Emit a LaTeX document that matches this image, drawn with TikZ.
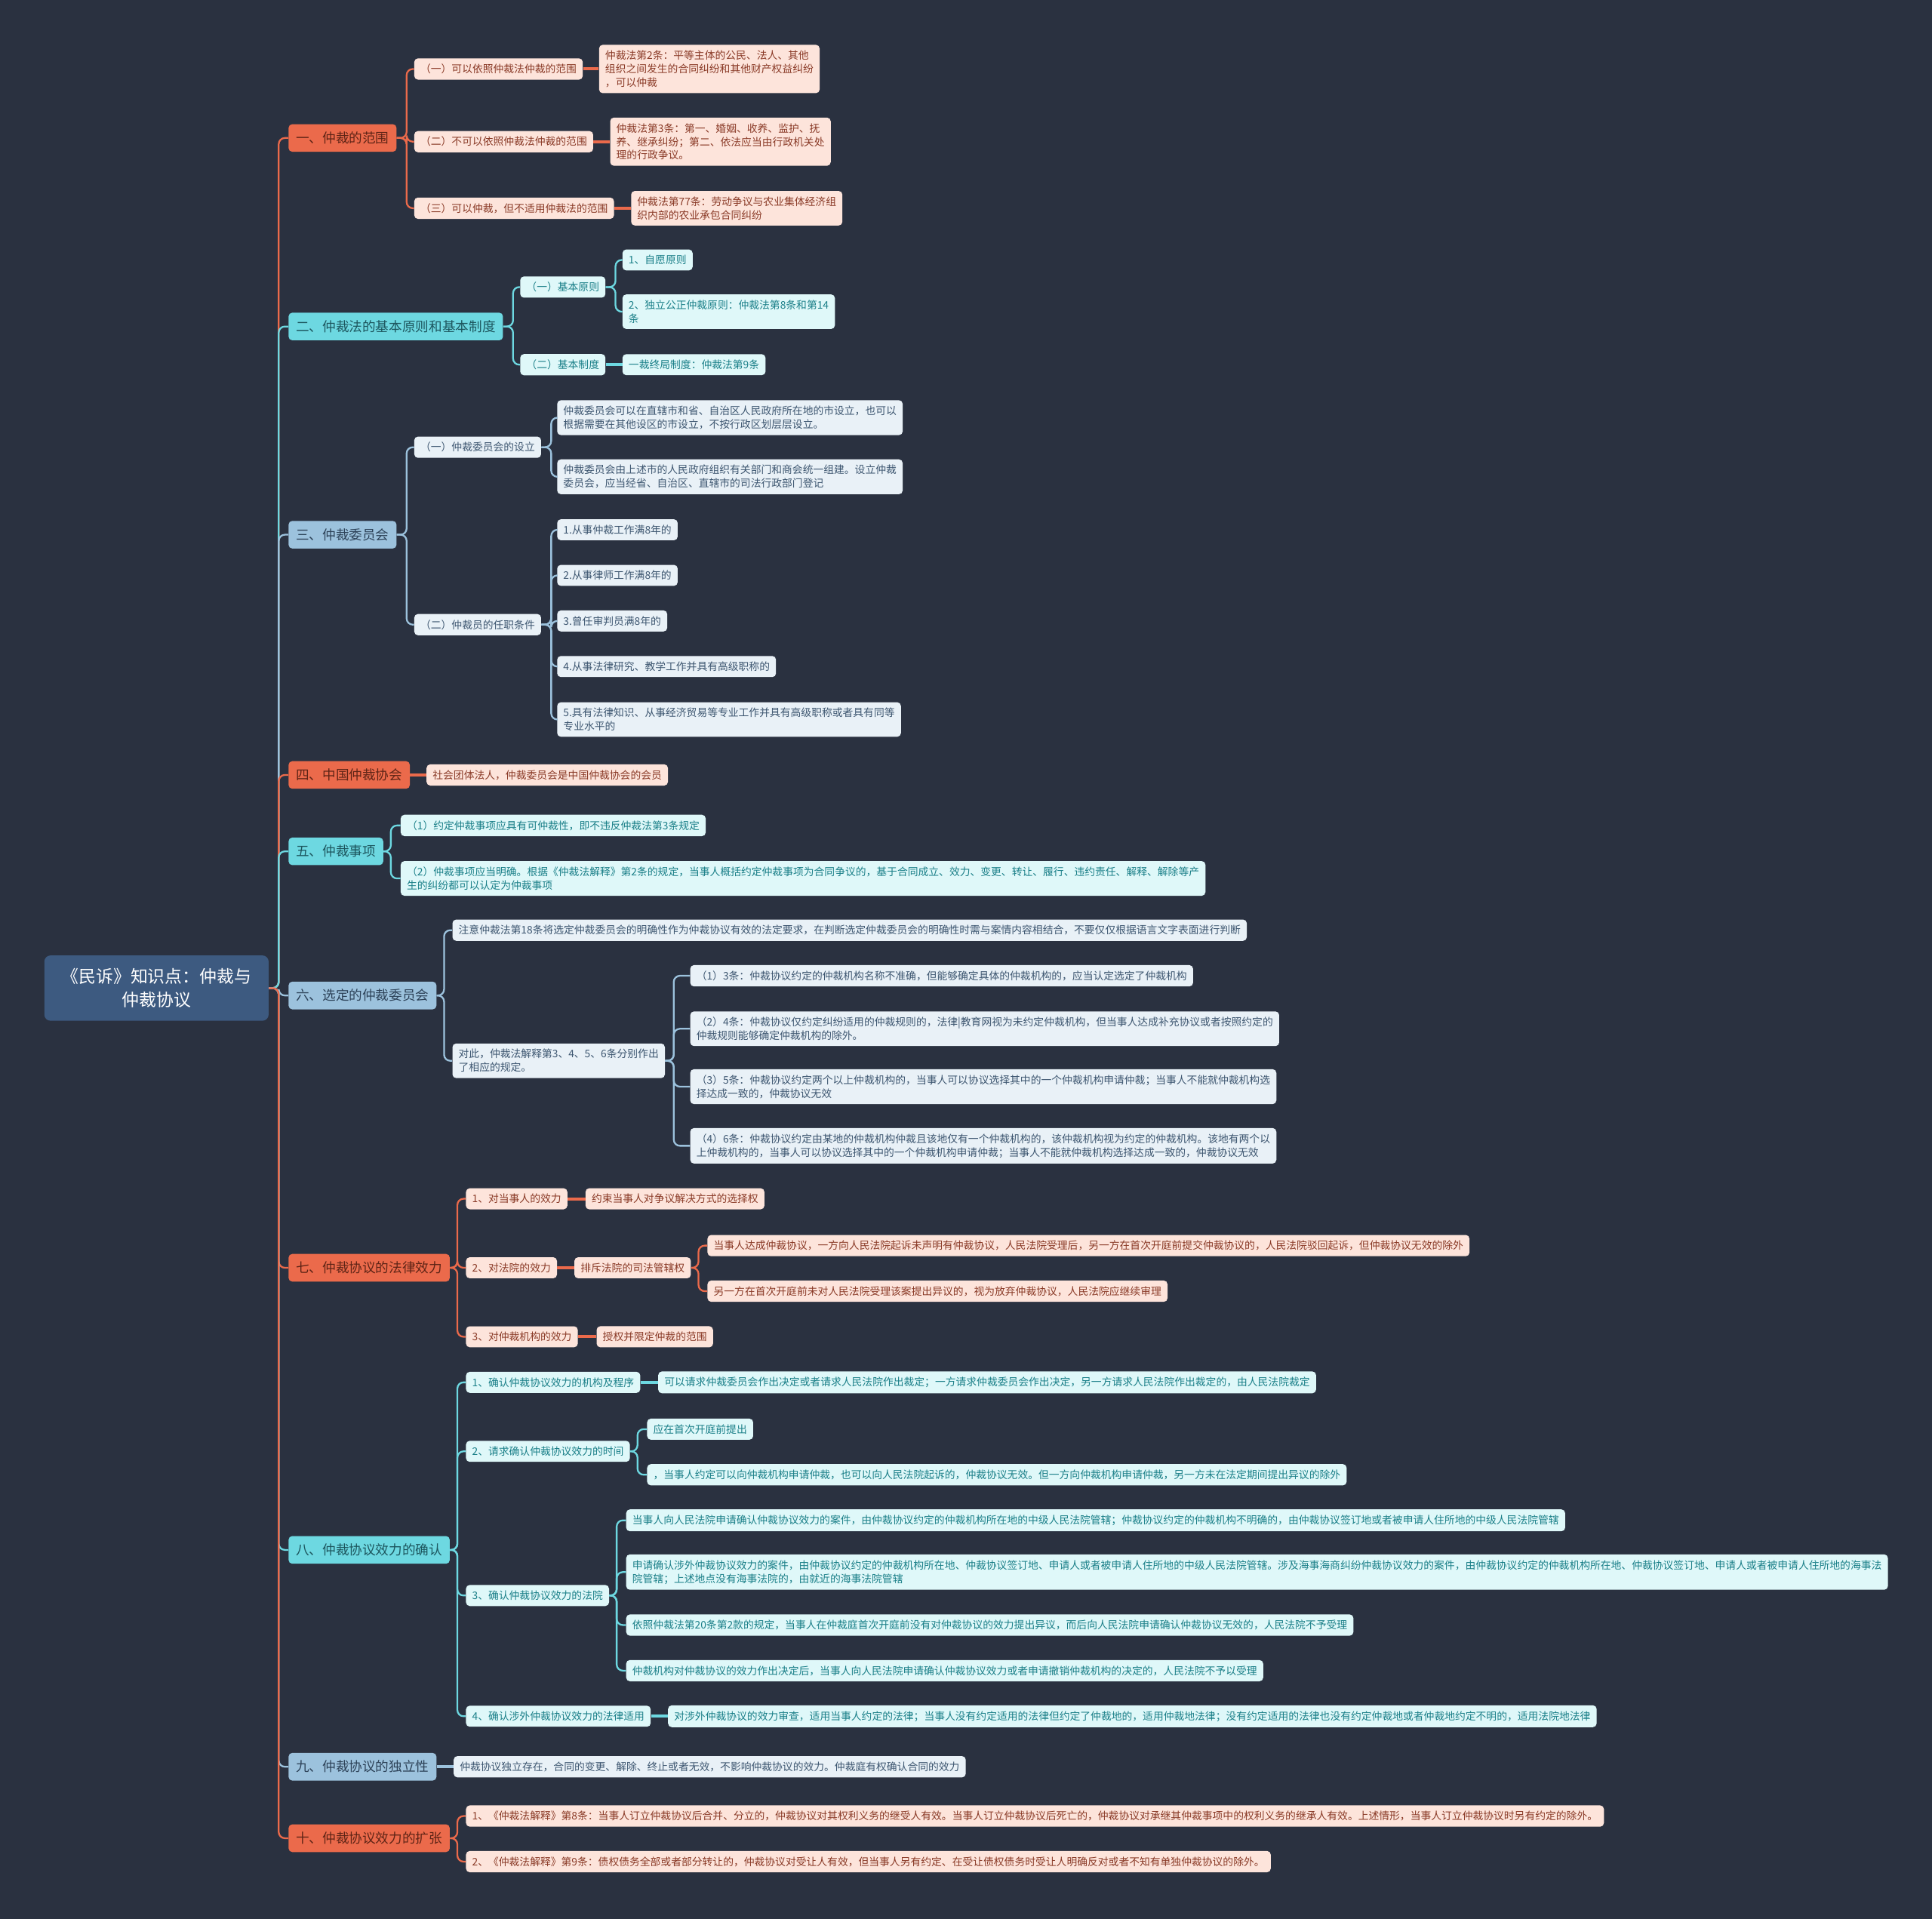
\documentclass[tikz,border=0pt]{standalone}
\usepackage{fontspec}
\setmainfont{Noto Sans CJK SC}
\definecolor{bgcol}{HTML}{2A3140}
\definecolor{rootcol}{HTML}{3D5A80}
\definecolor{orgcol}{HTML}{EB6A4B}
\definecolor{cyacol}{HTML}{6DD8E1}
\definecolor{blucol}{HTML}{9CC2DD}
\definecolor{orgtxt}{HTML}{5E2416}
\definecolor{cyatxt}{HTML}{1D565E}
\definecolor{blutxt}{HTML}{2D4258}
\definecolor{orgfill}{HTML}{FDE4DB}
\definecolor{cyafill}{HTML}{DFF8F9}
\definecolor{blufill}{HTML}{E9F1F7}
\definecolor{orgleaftxt}{HTML}{8A3A27}
\definecolor{cyaleaftxt}{HTML}{1A7F88}
\definecolor{bluleaftxt}{HTML}{3D5670}
\tikzset{
  box/.style={rounded corners=3pt, inner xsep=5pt, inner ysep=4.6pt, align=left, anchor=west,
    font=\fontsize{8.45}{11}\selectfont},
  mainbox/.style={box, inner xsep=6pt, inner ysep=6.2pt, font=\fontsize{10.8}{13}\selectfont},
  orgmain/.style={mainbox, fill=orgcol, text=orgtxt},
  cyamain/.style={mainbox, fill=cyacol, text=cyatxt},
  blumain/.style={mainbox, fill=blucol, text=blutxt},
  orgleaf/.style={box, fill=orgfill, text=orgleaftxt},
  cyaleaf/.style={box, fill=cyafill, text=cyaleaftxt},
  bluleaf/.style={box, fill=blufill, text=bluleaftxt},
  link/.style={line width=1.4pt, rounded corners=5pt},
  orgline/.style={link, draw=orgcol},
  cyaline/.style={link, draw=cyacol},
  bluline/.style={link, draw=blucol},
}
\begin{document}
\begin{tikzpicture}[x=1pt, y=-1pt]
    \useasboundingbox (0,0) rectangle (1568,1557);
    \fill[bgcol] (-3,-3) rectangle (1571,1560);

    % Root
    \node[rounded corners=5pt, fill=rootcol, text=white, align=center, minimum width=182pt, minimum height=53pt,
          font=\fontsize{14}{19}\selectfont] (root) at (127,802) {《民诉》知识点：仲裁与\\仲裁协议};

    % Main branches
    \node[orgmain] (m1) at (234,112) {一、仲裁的范围};
    \node[cyamain] (m2) at (234,265) {二、仲裁法的基本原则和基本制度};
    \node[blumain] (m3) at (234,434) {三、仲裁委员会};
    \node[orgmain] (m4) at (234,629) {四、中国仲裁协会};
    \node[cyamain] (m5) at (234,691) {五、仲裁事项};
    \node[blumain] (m6) at (234,808) {六、选定的仲裁委员会};
    \node[orgmain] (m7) at (234,1029) {七、仲裁协议的法律效力};
    \node[cyamain] (m8) at (234,1258) {八、仲裁协议效力的确认};
    \node[blumain] (m9) at (234,1434) {九、仲裁协议的独立性};
    \node[orgmain] (m10) at (234,1492) {十、仲裁协议效力的扩张};

    \draw[orgline] (root.east) -- ++(8,0) |- (m1.west);
    \draw[cyaline] (root.east) -- ++(8,0) |- (m2.west);
    \draw[bluline] (root.east) -- ++(8,0) |- (m3.west);
    \draw[orgline] (root.east) -- ++(8,0) |- (m4.west);
    \draw[cyaline] (root.east) -- ++(8,0) |- (m5.west);
    \draw[bluline] (root.east) -- ++(8,0) |- (m6.west);
    \draw[orgline] (root.east) -- ++(8,0) |- (m7.west);
    \draw[cyaline] (root.east) -- ++(8,0) |- (m8.west);
    \draw[bluline] (root.east) -- ++(8,0) |- (m9.west);
    \draw[orgline] (root.east) -- ++(8,0) |- (m10.west);

    % 1
    \node[orgleaf] (a1) at (336,56) {（一）可以依照仲裁法仲裁的范围};
    \node[orgleaf] (a2) at (336,115) {（二）不可以依照仲裁法仲裁的范围};
    \node[orgleaf] (a3) at (336,169) {（三）可以仲裁，但不适用仲裁法的范围};
    \node[orgleaf] (a1l) at (486,56) {仲裁法第2条：平等主体的公民、法人、其他\\组织之间发生的合同纠纷和其他财产权益纠纷\\，可以仲裁};
    \node[orgleaf] (a2l) at (495,115) {仲裁法第3条：第一、婚姻、收养、监护、抚\\养、继承纠纷；第二、依法应当由行政机关处\\理的行政争议。};
    \node[orgleaf] (a3l) at (512,169) {仲裁法第77条：劳动争议与农业集体经济组\\织内部的农业承包合同纠纷};
    \foreach \c in {a1,a2,a3} \draw[orgline] (m1.east) -- ++(8,0) |- (\c.west);
    \foreach \c in {a1,a2,a3} \draw[orgline, line width=2.4pt] (\c.east) -- (\c l.west);

    % 2
    \node[cyaleaf] (b1) at (422,233) {（一）基本原则};
    \node[cyaleaf] (b2) at (422,296) {（二）基本制度};
    \node[cyaleaf] (b1a) at (505,211) {1、自愿原则};
    \node[cyaleaf] (b1b) at (505,253) {2、独立公正仲裁原则：仲裁法第8条和第14\\条};
    \node[cyaleaf] (b2a) at (505,296) {一裁终局制度：仲裁法第9条};
    \foreach \c in {b1,b2} \draw[cyaline] (m2.east) -- ++(8,0) |- (\c.west);
    \foreach \c in {b1a,b1b} \draw[cyaline] (b1.east) -- ++(8,0) |- (\c.west);
    \draw[cyaline, line width=2.4pt] (b2.east) -- (b2a.west);

    % 3
    \node[bluleaf] (c1) at (336,363) {（一）仲裁委员会的设立};
    \node[bluleaf] (c2) at (336,507) {（二）仲裁员的任职条件};
    \node[bluleaf] (c1a) at (452,339) {仲裁委员会可以在直辖市和省、自治区人民政府所在地的市设立，也可以\\根据需要在其他设区的市设立，不按行政区划层层设立。};
    \node[bluleaf] (c1b) at (452,387) {仲裁委员会由上述市的人民政府组织有关部门和商会统一组建。设立仲裁\\委员会，应当经省、自治区、直辖市的司法行政部门登记};
    \node[bluleaf] (c2a) at (452,430) {1.从事仲裁工作满8年的};
    \node[bluleaf] (c2b) at (452,467) {2.从事律师工作满8年的};
    \node[bluleaf] (c2c) at (452,504) {3.曾任审判员满8年的};
    \node[bluleaf] (c2d) at (452,541) {4.从事法律研究、教学工作并具有高级职称的};
    \node[bluleaf] (c2e) at (452,584) {5.具有法律知识、从事经济贸易等专业工作并具有高级职称或者具有同等\\专业水平的};
    \foreach \c in {c1,c2} \draw[bluline] (m3.east) -- ++(8,0) |- (\c.west);
    \foreach \c in {c1a,c1b} \draw[bluline] (c1.east) -- ++(8,0) |- (\c.west);
    \foreach \c in {c2a,c2b,c2c,c2d,c2e} \draw[bluline] (c2.east) -- ++(8,0) |- (\c.west);

    % 4
    \node[orgleaf] (d1) at (346,629) {社会团体法人，仲裁委员会是中国仲裁协会的会员};
    \draw[orgline, line width=2.4pt] (m4.east) -- (d1.west);

    % 5
    \node[cyaleaf] (e1) at (325,670) {（1）约定仲裁事项应具有可仲裁性，即不违反仲裁法第3条规定};
    \node[cyaleaf] (e2) at (325,713) {（2）仲裁事项应当明确。根据《仲裁法解释》第2条的规定，当事人概括约定仲裁事项为合同争议的，基于合同成立、效力、变更、转让、履行、违约责任、解释、解除等产\\生的纠纷都可以认定为仲裁事项};
    \foreach \c in {e1,e2} \draw[cyaline] (m5.east) -- ++(6,0) |- (\c.west);

    % 6
    \node[bluleaf] (f1) at (367,755) {注意仲裁法第18条将选定仲裁委员会的明确性作为仲裁协议有效的法定要求，在判断选定仲裁委员会的明确性时需与案情内容相结合，不要仅仅根据语言文字表面进行判断};
    \node[bluleaf] (f2) at (367,861) {对此，仲裁法解释第3、4、5、6条分别作出\\了相应的规定。};
    \node[bluleaf] (f2a) at (560,792) {（1）3条：仲裁协议约定的仲裁机构名称不准确，但能够确定具体的仲裁机构的，应当认定选定了仲裁机构};
    \node[bluleaf] (f2b) at (560,835) {（2）4条：仲裁协议仅约定纠纷适用的仲裁规则的，法律|教育网视为未约定仲裁机构，但当事人达成补充协议或者按照约定的\\仲裁规则能够确定仲裁机构的除外。};
    \node[bluleaf] (f2c) at (560,882) {（3）5条：仲裁协议约定两个以上仲裁机构的，当事人可以协议选择其中的一个仲裁机构申请仲裁；当事人不能就仲裁机构选\\择达成一致的，仲裁协议无效};
    \node[bluleaf] (f2d) at (560,930) {（4）6条：仲裁协议约定由某地的仲裁机构仲裁且该地仅有一个仲裁机构的，该仲裁机构视为约定的仲裁机构。该地有两个以\\上仲裁机构的，当事人可以协议选择其中的一个仲裁机构申请仲裁；当事人不能就仲裁机构选择达成一致的，仲裁协议无效};
    \foreach \c in {f1,f2} \draw[bluline] (m6.east) -- ++(6,0) |- (\c.west);
    \foreach \c in {f2a,f2b,f2c,f2d} \draw[bluline] (f2.east) -- ++(7,0) |- (\c.west);

    % 7
    \node[orgleaf] (g1) at (378,973) {1、对当事人的效力};
    \node[orgleaf] (g2) at (378,1029) {2、对法院的效力};
    \node[orgleaf] (g3) at (378,1085) {3、对仲裁机构的效力};
    \node[orgleaf] (g1a) at (475,973) {约束当事人对争议解决方式的选择权};
    \node[orgleaf] (g2a) at (466,1029) {排斥法院的司法管辖权};
    \node[orgleaf] (g3a) at (484,1085) {授权并限定仲裁的范围};
    \node[orgleaf] (g2a1) at (574,1011) {当事人达成仲裁协议，一方向人民法院起诉未声明有仲裁协议，人民法院受理后，另一方在首次开庭前提交仲裁协议的，人民法院驳回起诉，但仲裁协议无效的除外};
    \node[orgleaf] (g2a2) at (574,1048) {另一方在首次开庭前未对人民法院受理该案提出异议的，视为放弃仲裁协议，人民法院应继续审理};
    \foreach \c in {g1,g2,g3} \draw[orgline] (m7.east) -- ++(6,0) |- (\c.west);
    \foreach \c in {g1,g2,g3} \draw[orgline, line width=2.4pt] (\c.east) -- (\c a.west);
    \foreach \c in {g2a1,g2a2} \draw[orgline] (g2a.east) -- ++(6,0) |- (\c.west);

    % 8
    \node[cyaleaf] (h1) at (378,1122) {1、确认仲裁协议效力的机构及程序};
    \node[cyaleaf] (h2) at (378,1178) {2、请求确认仲裁协议效力的时间};
    \node[cyaleaf] (h3) at (378,1295) {3、确认仲裁协议效力的法院};
    \node[cyaleaf] (h4) at (378,1393) {4、确认涉外仲裁协议效力的法律适用};
    \node[cyaleaf] (h1a) at (534,1122) {可以请求仲裁委员会作出决定或者请求人民法院作出裁定；一方请求仲裁委员会作出决定，另一方请求人民法院作出裁定的，由人民法院裁定};
    \node[cyaleaf] (h2a) at (525,1160) {应在首次开庭前提出};
    \node[cyaleaf] (h2b) at (525,1197) {，当事人约定可以向仲裁机构申请仲裁，也可以向人民法院起诉的，仲裁协议无效。但一方向仲裁机构申请仲裁，另一方未在法定期间提出异议的除外};
    \node[cyaleaf] (h3a) at (508,1234) {当事人向人民法院申请确认仲裁协议效力的案件，由仲裁协议约定的仲裁机构所在地的中级人民法院管辖；仲裁协议约定的仲裁机构不明确的，由仲裁协议签订地或者被申请人住所地的中级人民法院管辖};
    \node[cyaleaf] (h3b) at (508,1276) {申请确认涉外仲裁协议效力的案件，由仲裁协议约定的仲裁机构所在地、仲裁协议签订地、申请人或者被申请人住所地的中级人民法院管辖。涉及海事海商纠纷仲裁协议效力的案件，由仲裁协议约定的仲裁机构所在地、仲裁协议签订地、申请人或者被申请人住所地的海事法\\院管辖；上述地点没有海事法院的，由就近的海事法院管辖};
    \node[cyaleaf] (h3c) at (508,1319) {依照仲裁法第20条第2款的规定，当事人在仲裁庭首次开庭前没有对仲裁协议的效力提出异议，而后向人民法院申请确认仲裁协议无效的，人民法院不予受理};
    \node[cyaleaf] (h3d) at (508,1356) {仲裁机构对仲裁协议的效力作出决定后，当事人向人民法院申请确认仲裁协议效力或者申请撤销仲裁机构的决定的，人民法院不予以受理};
    \node[cyaleaf] (h4a) at (542,1393) {对涉外仲裁协议的效力审查，适用当事人约定的法律；当事人没有约定适用的法律但约定了仲裁地的，适用仲裁地法律；没有约定适用的法律也没有约定仲裁地或者仲裁地约定不明的，适用法院地法律};
    \foreach \c in {h1,h2,h3,h4} \draw[cyaline] (m8.east) -- ++(6,0) |- (\c.west);
    \draw[cyaline, line width=2.4pt] (h1.east) -- (h1a.west);
    \foreach \c in {h2a,h2b} \draw[cyaline] (h2.east) -- ++(6,0) |- (\c.west);
    \foreach \c in {h3a,h3b,h3c,h3d} \draw[cyaline] (h3.east) -- ++(6,0) |- (\c.west);
    \draw[cyaline, line width=2.4pt] (h4.east) -- (h4a.west);

    % 9
    \node[bluleaf] (i1) at (368,1434) {仲裁协议独立存在，合同的变更、解除、终止或者无效，不影响仲裁协议的效力。仲裁庭有权确认合同的效力};
    \draw[bluline, line width=2.4pt] (m9.east) -- (i1.west);

    % 10
    \node[orgleaf] (j1) at (378,1474) {1、《仲裁法解释》第8条：当事人订立仲裁协议后合并、分立的，仲裁协议对其权利义务的继受人有效。当事人订立仲裁协议后死亡的，仲裁协议对承继其仲裁事项中的权利义务的继承人有效。上述情形，当事人订立仲裁协议时另有约定的除外。};
    \node[orgleaf] (j2) at (378,1511) {2、《仲裁法解释》第9条：债权债务全部或者部分转让的，仲裁协议对受让人有效，但当事人另有约定、在受让债权债务时受让人明确反对或者不知有单独仲裁协议的除外。};
    \foreach \c in {j1,j2} \draw[orgline] (m10.east) -- ++(6,0) |- (\c.west);
\end{tikzpicture}
\end{document}
